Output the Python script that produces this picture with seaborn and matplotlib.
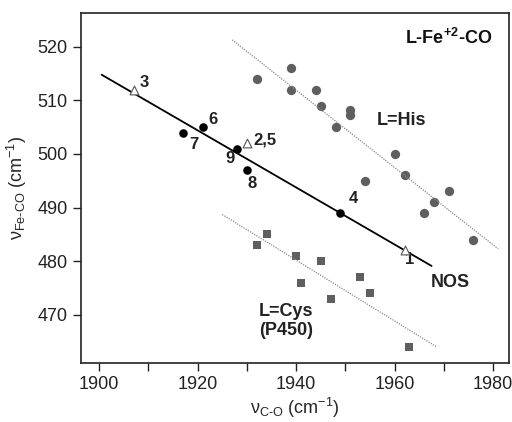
import matplotlib
matplotlib.use("Agg")
import matplotlib.pyplot as plt
from matplotlib.ticker import MultipleLocator
import seaborn as sns
import pandas as pd

# NOS (numbered points), filled = black circles, open = triangles
nos_x = [1921, 1917, 1928, 1930, 1949]
nos_y = [505, 504, 501, 497, 489]
nos_tri_x = [1907, 1930, 1962]
nos_tri_y = [512, 502, 482]
nos_line_x = [1900.5, 1967.5]
nos_line_y = [514.8, 479.1]

# L=His (grey circles)
his_x = [1932, 1939, 1939, 1944, 1945, 1951, 1951, 1948, 1960, 1962, 1954, 1971, 1968, 1966, 1976]
his_y = [514, 516, 512, 512, 509, 508.2, 507.2, 505, 500, 496, 495, 493, 491, 489, 484]
his_line_x = [1927, 1981]
his_line_y = [521.3, 482.3]

# L=Cys (P450) (grey squares)
cys_x = [1932, 1934, 1940, 1941, 1945, 1947, 1953, 1955, 1963]
cys_y = [483, 485, 481, 476, 480, 473, 477, 474, 464]
cys_line_x = [1925, 1968.5]
cys_line_y = [488.7, 464]

# point number labels: text, x, y
num_labels = ["3", "6", "7", "2,5", "9", "8", "4", "1"]
num_x = [1908.3, 1922.1, 1918.3, 1931.3, 1925.6, 1930.1, 1950.6, 1962.1]
num_y = [513.3, 506.5, 501.7, 502.6, 499.1, 494.4, 491.7, 480.3]

sns.set_style("ticks")
plt.rcParams["font.family"] = ["Liberation Sans", "DejaVu Sans"]
plt.rcParams["mathtext.fontset"] = "custom"
plt.rcParams["mathtext.rm"] = "Liberation Sans"
plt.rcParams["mathtext.bf"] = "Liberation Sans:bold"

fig = plt.figure(figsize=(5.12, 4.22), dpi=100)
ax = fig.add_axes([0.158, 0.140, 0.836, 0.829])

grey = "#5f5f5f"

sns.lineplot(x=his_line_x, y=his_line_y, ax=ax, color="#8a8a8a", lw=0.9,
             linestyle=(0, (1, 1)))
sns.lineplot(x=cys_line_x, y=cys_line_y, ax=ax, color="#8a8a8a", lw=0.9,
             linestyle=(0, (1, 1)))
sns.lineplot(x=nos_line_x, y=nos_line_y, ax=ax, color="black", lw=1.3)

sns.scatterplot(x=his_x, y=his_y, ax=ax, color=grey, s=45, marker="o",
                edgecolor=grey, linewidth=0)
sns.scatterplot(x=cys_x, y=cys_y, ax=ax, color=grey, s=38, marker="s",
                edgecolor=grey, linewidth=0)
sns.scatterplot(x=nos_x, y=nos_y, ax=ax, color="black", s=38, marker="o",
                linewidth=0, zorder=5)
sns.scatterplot(x=nos_tri_x, y=nos_tri_y, ax=ax, color="white", s=40,
                marker="^", edgecolor="#555555", linewidth=0.8, zorder=5)

for t, x, y in zip(num_labels, num_x, num_y):
    ax.text(x, y, t, fontsize=12, fontweight="bold", color="#222222",
            ha="left", va="center")

ax.text(1967.4, 476.1, "NOS", fontsize=13, fontweight="bold", color="#222222",
        ha="left", va="center")
ax.text(1956.4, 506.3, "L=His", fontsize=13, fontweight="bold", color="#222222",
        ha="left", va="center")
ax.text(1932.5, 468.8, "L=Cys\n(P450)", fontsize=13, fontweight="bold",
        color="#222222", ha="left", va="center", linespacing=1.15)
ax.text(1962.1, 521.7, r"L-Fe$^{\mathbf{+2}}$-CO", fontsize=13,
        fontweight="bold", color="#111111", ha="left", va="center")

ax.set_xlim(1896.3, 1983.2)
ax.set_ylim(461.0, 526.3)
ax.xaxis.set_major_locator(MultipleLocator(20))
ax.xaxis.set_minor_locator(MultipleLocator(10))
ax.yaxis.set_major_locator(MultipleLocator(10))
ax.tick_params(axis="both", which="both", direction="out", length=6,
               width=1.0, labelsize=13, colors="#222222")
for sp in ax.spines.values():
    sp.set_visible(True)
    sp.set_linewidth(1.2)
    sp.set_color("#222222")

ax.set_xlabel("ν$_{\\mathregular{C\\text{-}O}}$ (cm$^{\\mathregular{-1}}$)", fontsize=13,
              labelpad=2)
ax.set_ylabel("ν$_{\\mathregular{Fe\\text{-}CO}}$ (cm$^{\\mathregular{-1}}$)", fontsize=13,
              labelpad=6)

fig.savefig("out.png", dpi=100)
